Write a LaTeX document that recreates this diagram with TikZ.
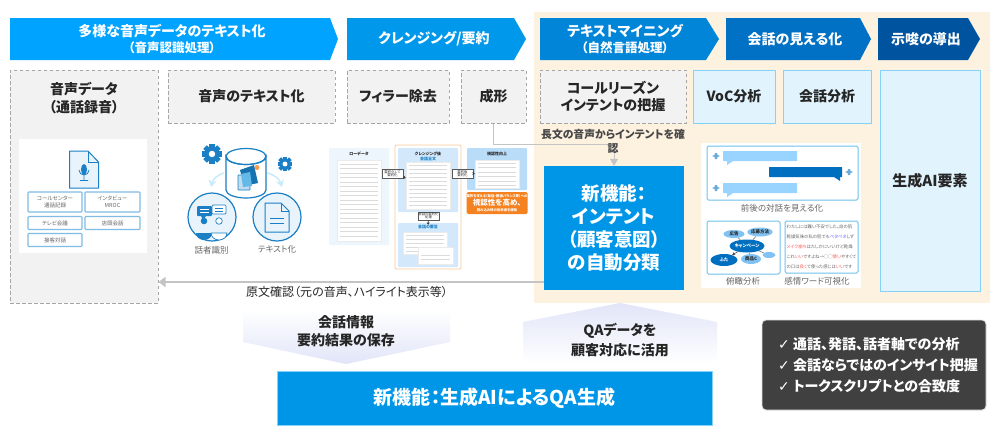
\documentclass[tikz,border=0pt]{standalone}
\usepackage{fontspec}
\setmainfont{Noto Sans CJK JP}[RawFeature=+palt]
\newfontfamily\symfont{DejaVu Sans}
\usetikzlibrary{arrows.meta,positioning,shapes.geometric}
\definecolor{headA}{HTML}{00A3FF}
\definecolor{headB}{HTML}{0098EA}
\definecolor{headC}{HTML}{0085D9}
\definecolor{headD}{HTML}{0071C4}
\definecolor{headE}{HTML}{00539F}
\definecolor{newblue}{HTML}{0096E8}
\definecolor{bgorange}{HTML}{FDF1E0}
\definecolor{dashfill}{HTML}{F2F2F2}
\definecolor{dashline}{HTML}{A6A6A6}
\definecolor{skyfill}{HTML}{E1F4FE}
\definecolor{skyline}{HTML}{85D2F8}
\definecolor{iconblue}{HTML}{1A7FC4}
\definecolor{iconpale}{HTML}{E8F3FB}
\definecolor{chipline}{HTML}{7FBCE6}
\definecolor{linkgray}{HTML}{C4C4C4}
\definecolor{inktext}{HTML}{262626}
\definecolor{softtext}{HTML}{666666}
\definecolor{panelpale}{HTML}{EDF6FD}
\definecolor{panelmid}{HTML}{D3E8FA}
\definecolor{paneldeep}{HTML}{B9DCF8}
\definecolor{bubblepale}{HTML}{99D3FF}
\definecolor{bubbledeep}{HTML}{006FC0}
\definecolor{alertorange}{HTML}{F58220}
\definecolor{lavender}{HTML}{E1E5F8}
\newcommand{\fsize}[1]{\fontsize{#1}{#1}\selectfont}
\newcommand{\headarrow}[4]{\fill[#4] (#1,18) -- (#2,18) -- (#3,39) -- (#2,60) -- (#1,60) -- cycle;}
\newcommand{\gearicon}[2]{%
  \foreach \a in {0,45,...,315}
    \fill[iconblue,shift={(#1)},rotate=\a] (-.3*#2,0) rectangle (.3*#2,-1.15*#2);
  \fill[iconblue] (#1) circle[radius=.85*#2 pt];
  \fill[white] (#1) circle[radius=.38*#2 pt];}
\newcommand{\talkicon}[1]{\fill[iconblue!65,shift={(#1)}] (-1,-3) -- (1,-3) -- (1.5,-1) -- (4,0) -- (1.5,1) -- (1,3) -- (-1,3) -- (-1.5,1) -- (-4,0) -- (-1.5,-1) -- cycle;}
\tikzset{
  headtext/.style={text=white,font=\bfseries\fsize{14},align=center,inner sep=0pt},
  dashbox/.style={draw=dashline,fill=dashfill,line width=1pt,dash pattern=on 3.5pt off 2.5pt,inner sep=0pt},
  skybox/.style={draw=skyline,fill=skyfill,line width=1pt,inner sep=0pt},
  boxtext/.style={text=inktext,font=\bfseries\fsize{14},align=center,inner sep=0pt},
  newbox/.style={fill=newblue,text=white,font=\bfseries\fsize{18.5},align=center,inner sep=0pt},
  chip/.style={draw=chipline,fill=white,rounded corners=.8pt,line width=1.1pt,text=softtext,font=\fsize{5.5},align=center,inner sep=0pt},
  paper/.style={fill=white,draw=black!8,line width=.3pt,inner sep=0pt},
  tinytext/.style={text=inktext,font=\bfseries\fsize{4},align=center,inner sep=0pt},
  stepchip/.style={draw=black!65,fill=white,line width=.8pt,text=inktext,font=\fsize{3.4},align=center,inner sep=0pt},
  paperline/.style={black!14,line width=.6pt},
  iconlabel/.style={text=softtext,font=\fsize{8.5},inner sep=0pt},
  framebox/.style={draw=skyline!80!iconblue,fill=white,rounded corners=1.5pt,line width=1pt},
  bubblepaleb/.style={fill=bubblepale,rounded corners=.5pt},
  word/.style={ellipse,inner sep=0pt,text=inktext,font=\bfseries\fsize{4.5}},
  smallstep/.style={black!80,line width=.7pt,-{Stealth[length=2.5pt,width=3pt]}},
  link/.style={draw=linkgray,line width=1.4pt,-{Triangle[length=7pt,width=10pt]}},
  thinlink/.style={draw=linkgray,line width=.8pt,-{Triangle[length=7pt,width=8pt]}}
}
\begin{document}
\begin{tikzpicture}[x=1pt,y=-1pt]
  \useasboundingbox (0,0) rectangle (1000,434);
  \fill[white] (0,0) rectangle (1000,434);
  \fill[bgorange] (534,12) rectangle (990,303);
  \headarrow{10}{330}{338}{headA}
  \headarrow{347}{514}{526}{headB}
  \headarrow{540}{706}{719}{headC}
  \headarrow{726}{860}{871}{headD}
  \headarrow{878}{968}{980}{headE}
  \node[headtext] (headone) at (172,39) {多様な音声データのテキスト化\\[2pt]{\fsize{12.5}（音声認識処理）}};
  \node[headtext] (headtwo) at (434,39) {クレンジング/要約};
  \node[headtext] (headthree) at (625,39) {テキストマイニング\\[2pt]{\fsize{12.5}（自然言語処理）}};
  \node[headtext] (headfour) at (795,39) {会話の見える化};
  \node[headtext] (headfive) at (926,39) {示唆の導出};

  \node[dashbox,minimum width=148pt,minimum height=233pt] (audio) at (84,186.5) {};
  \node[dashbox,minimum width=167pt,minimum height=53pt,boxtext] (totext) at (251.5,96.5) {音声のテキスト化};
  \node[dashbox,minimum width=102pt,minimum height=53pt,boxtext] (filler) at (398,96.5) {フィラー除去};
  \node[dashbox,minimum width=65pt,minimum height=53pt,boxtext] (seikei) at (493.5,96.5) {成形};
  \node[dashbox,minimum width=146pt,minimum height=53pt,boxtext] (reason) at (613,96.5) {コールリーズン\\[3pt]インテントの把握};
  \node[skybox,minimum width=82pt,minimum height=53pt,boxtext] (voc) at (734,96.5) {VoC分析};
  \node[skybox,minimum width=88pt,minimum height=53pt,boxtext] (talk) at (827,96.5) {会話分析};
  \node[skybox,minimum width=100pt,minimum height=221pt,boxtext,font=\bfseries\fsize{15}] (genai) at (930,180.5) {生成AI要素};
  \node[boxtext] (audiotitle) at (84,98) {音声データ\\[4pt]（通話録音）};

  % audio panel
  \fill[white] (19,139) rectangle (147,253);
  \draw[iconblue,line width=1pt,fill=iconpale,line join=round] (69.5,151) -- (88,151) -- (98.5,162) -- (98.5,188) -- (69.5,188) -- cycle;
  \draw[iconblue,line width=.8pt] (88,151) -- (88,162) -- (98.5,162);
  \fill[iconblue] (84,169.5) ellipse[x radius=3pt,y radius=5.5pt];
  \draw[iconblue,line width=.8pt] (79,170) arc[start angle=180,end angle=0,radius=5] (84,175) -- (84,180.5) (80,180.5) -- (88,180.5);
  \node[chip,minimum width=54pt,minimum height=20pt] (callcenter) at (55,202) {コールセンター\\[1.5pt]通話記録};
  \node[chip,minimum width=55pt,minimum height=20pt] (interview) at (112.5,202) {インタビュー\\[1.5pt]MROC};
  \node[chip,minimum width=54pt,minimum height=13pt] (webmeet) at (55,223) {テレビ会議};
  \node[chip,minimum width=55pt,minimum height=13pt] (shoptalk) at (112.5,223) {店頭会話};
  \node[chip,minimum width=54pt,minimum height=13pt] (service) at (55,240) {接客対話};

  % speech to text icons
  \gearicon{212,154}{8.5}
  \gearicon{285,164}{6.5}
  \draw[iconblue,line width=1.2pt,fill=white] (226,156.5) -- (226,190) arc[start angle=180,end angle=0,x radius=20,y radius=8] -- (266,156.5) arc[start angle=0,end angle=180,x radius=20,y radius=8] -- cycle;
  \draw[iconblue,line width=1.2pt] (246,156.5) ellipse[x radius=20pt,y radius=8pt];
  \fill[iconblue!90!black] (240,170) -- (254,165) -- (258,183) -- (244,186) -- cycle;
  \draw[iconblue,fill=iconpale!80!iconblue,line width=.8pt,rounded corners=.6pt] (238,175) rectangle (250,190);
  \fill[skyline!70!iconblue] (241,174) -- (250,172) -- (252,186) -- (243,187) -- cycle;
  \fill[alertorange!80] (257,167.5) circle[radius=2.5pt];
  \draw[skyline!45,line width=1.5pt,-{Stealth[length=7pt,width=8pt]}] (224,173) to[bend right=30] (211,187);
  \draw[skyline!45,line width=1.5pt,-{Stealth[length=7pt,width=8pt]}] (267,173) to[bend left=30] (282,187);
  \draw[iconblue,line width=1.2pt,fill=iconpale] (212,217) circle[radius=24pt];
  \draw[iconblue,line width=1.2pt,fill=iconpale] (277,217) circle[radius=24pt];
  \fill[iconblue,rounded corners=1pt] (197,206) rectangle (212,216);
  \fill[iconblue] (201,216) -- (206,216) -- (203,220) -- cycle;
  \draw[iconblue,fill=white,line width=.7pt,rounded corners=1pt] (212,205) rectangle (226,214);
  \draw[white,line width=.8pt] (200,209) -- (209,209) (200,212.5) -- (209,212.5);
  \draw[iconblue,line width=.7pt] (215,208) -- (223,208) (215,211) -- (223,211);
  \fill[iconblue] (204,221) circle[radius=3.3pt];
  \fill[iconblue] (196,233) arc[start angle=180,end angle=0,x radius=8,y radius=7] -- cycle;
  \draw[iconblue,fill=white,line width=.7pt] (219,221) circle[radius=3.3pt];
  \draw[iconblue,fill=white,line width=.7pt] (211,233) arc[start angle=180,end angle=0,x radius=8,y radius=7] -- cycle;
  \draw[iconblue,line width=1pt,fill=iconpale,line join=round] (265,203) -- (281,203) -- (289,211) -- (289,232) -- (265,232) -- cycle;
  \draw[iconblue,line width=.8pt] (281,203) -- (281,211) -- (289,211);
  \draw[iconblue,line width=.8pt] (270,218) -- (284,218) (270,223) -- (284,223);
  \node[iconlabel] (speaker) at (211.5,250) {話者識別};
  \node[iconlabel] (textlabel) at (277,249) {テキスト化};

  % cleansing panels
  \fill[panelpale,rounded corners=1pt] (329,148) rectangle (389,245);
  \node[tinytext] (rawtitle) at (359,154) {ローデータ};
  \node[paper,minimum width=44pt,minimum height=81pt] (rawpaper) at (359,200.5) {};
  \foreach \ly in {164,168.5,...,238} \draw[paperline] (340,\ly) -- (378,\ly);
  \draw[alertorange!45,line width=.9pt,rounded corners=1pt] (395,145) rectangle (461,269);
  \fill[panelmid,rounded corners=1pt] (398,148) rectangle (458,212);
  \fill[panelmid,rounded corners=1pt] (398,223) rectangle (458,267);
  \node[tinytext] (cleantitle) at (428,154) {クレンジング後};
  \node[tinytext,text=iconblue] (cleansub) at (428,159) {会話全文};
  \node[paper,minimum width=44pt,minimum height=47pt] (cleanpaper) at (428,185.5) {};
  \foreach \ly in {165,169,...,207} \draw[paperline] (409,\ly) -- (447,\ly);
  \node[tinytext,text=iconblue] (sumtitle) at (428,227) {会話の要旨};
  \node[paper,minimum width=44pt,minimum height=22pt] (sumpaper) at (425,243) {};
  \foreach \ly in {235,239,...,251} \draw[paperline] (406,\ly) -- (444,\ly);
  \node[paper,minimum width=35pt,minimum height=17pt] (sumback) at (435.5,255.5) {};
  \foreach \ly in {255,259} \draw[paperline] (421,\ly) -- (450,\ly);
  \fill[paneldeep,rounded corners=1pt] (467,148) rectangle (527,190);
  \node[tinytext] (viewtitle) at (497,154) {視認性向上};
  \node[paper,minimum width=44pt,minimum height=28pt] (viewpaper) at (497,174) {};
  \foreach \ly in {163,167.5,...,186} \draw[paperline] (478,\ly) -- (516,\ly);
  \node[fill=alertorange,rounded corners=1.5pt,minimum width=58pt,minimum height=22pt,inner sep=0pt,text=white,align=center,font=\bfseries\fsize{3.4}] (alert) at (497,203) {業界を支える（発話・数値バランス等）への\\[1pt]{\fsize{7.5}視認性を高め、}\\[1pt]読み込み時の効率者を補助};
  \node[stepchip,minimum width=21pt,minimum height=9pt] (stepone) at (392.5,173.5) {要約化して\\要約化};
  \node[stepchip,minimum width=21pt,minimum height=9pt] (steptwo) at (462.5,173.5) {要約後\\要約化};
  \node[stepchip,minimum width=21pt,minimum height=8pt] (stepthree) at (428.5,216) {会話の要約化\\処理};
  \draw[smallstep] (stepone) -- (cleanpaper);
  \draw[smallstep] (steptwo) -- (viewpaper);
  \draw[smallstep] (stepthree) -- (sumtitle);

  % visualisation panels
  \fill[white] (701,143) rectangle (861,288);
  \draw[framebox] (707,146) rectangle (858,200);
  \fill[bubblepaleb] (723,151) rectangle (797,161);
  \fill[bubblepale] (727,161) -- (733,161) -- (727,165) -- cycle;
  \fill[bubbledeep,rounded corners=.5pt] (769,167) rectangle (842,177);
  \fill[bubbledeep] (834,177) -- (840,177) -- (840,181) -- cycle;
  \fill[bubblepaleb] (723,183) rectangle (797,193);
  \fill[bubblepale] (727,193) -- (733,193) -- (727,197) -- cycle;
  \talkicon{716,156}
  \talkicon{849,172}
  \talkicon{716,188}
  \node[iconlabel] (dialog) at (782,208) {前後の対話を見える化};
  \draw[framebox] (707,221) rectangle (780,274);
  \node[word,fill=bubblepale!80!iconblue,minimum width=21pt,minimum height=8pt] (adword) at (734,234) {広告};
  \node[word,fill=bubblepale!80!iconblue,minimum width=25pt,minimum height=9pt] (howword) at (760,232) {応募方法};
  \node[word,fill=bubbledeep,text=white,minimum width=30pt,minimum height=13pt] (campaign) at (747,246) {キャンペーン};
  \node[word,fill=bubbledeep,text=white,minimum width=27pt,minimum height=12pt] (lidword) at (724,260) {ふた};
  \node[word,fill=bubblepale!80!iconblue,minimum width=20pt,minimum height=10pt] (itemword) at (751,259) {商品C};
  \node[word,fill=bubblepale!80!iconblue,minimum width=13pt,minimum height=6pt] (blankword) at (769,255) {};
  \draw[black!60,line width=.5pt] (campaign) -- (adword);
  \draw[black!60,line width=.5pt] (campaign) -- (howword);
  \draw[black!60,line width=.5pt] (campaign) -- (itemword);
  \draw[black!60,line width=.5pt] (campaign) -- (blankword);
  \draw[black!70,line width=.6pt,-{Stealth[length=3pt,width=3.5pt]}] (campaign) -- (lidword);
  \draw[framebox] (785,221) rectangle (858,273);
  \node[inner sep=0pt,align=left,text=softtext,font=\fsize{4.4}] (sentiment) at (821.5,247) {わたしには難い不安でした。自の肌\\[5.6pt]乾燥気味の私の肌でも{\color{blue!60}ベタベタ}しず\\[5.6pt]{\color{red!65}メイク崩ち}はたしかにいいけど乾燥\\[5.6pt]これ{\color{red!65}いい}ですよね→◯◯{\color{red!65}使い}やすくて\\[5.6pt]の口は{\color{red!65}良く}て使った感じは{\color{red!65}いい}です};
  \node[iconlabel] (overview) at (743,281) {俯瞰分析};
  \node[iconlabel] (emotion) at (817,281) {感情ワード可視化};

  % new functions and links
  \node[newbox,minimum width=140pt,minimum height=124pt] (intent) at (614,228) {新機能：\\[4.5pt]インテント\\[4.5pt]（顧客意図）\\[4.5pt]の自動分類};
  \coordinate (backstart) at (544,282);
  \coordinate (bend) at (493.5,144);
  \draw[link] (backstart) -- (backstart -| audio.east);
  \draw[thinlink] (seikei.south) -- (bend) -- (bend -| intent.north) -- (intent.north);
  \node[inner sep=0pt,align=center,text=softtext!70!black,font=\bfseries\fsize{10.8}] (longvoice) at (613,141) {長文の音声からインテントを確\\[3pt]認};
  \node[inner sep=0pt,text=inktext,font=\fsize{12}] (original) at (347,292) {原文確認（元の音声、ハイライト表示等）};
  \shade[top color=white,bottom color=lavender] (243,310) -- (450,310) -- (450,342) -- (346,364) -- (243,342) -- cycle;
  \shade[top color=lavender,bottom color=white] (620,303) -- (717,322) -- (717,363) -- (523,363) -- (523,322) -- cycle;
  \node[boxtext] (storeinfo) at (346,331) {会話情報\\[3.5pt]要約結果の保存};
  \node[boxtext] (qause) at (620,340) {QAデータを\\[3.5pt]顧客対応に活用};
  \node[newbox,draw=skyline,line width=.5pt,minimum width=435pt,minimum height=54pt,font=\bfseries\fsize{19}] (qagen) at (494.5,398) {新機能：生成AIによるQA生成};
  \node[fill=black!75,draw=black!12,line width=.8pt,rounded corners=4pt,minimum width=224pt,minimum height=90pt,inner sep=0pt] (pointsbox) at (874,365) {};
  \node[inner sep=0pt,text=white,align=left,font=\bfseries\fsize{14}] (points) at (878,365) {{\symfont ✓} 通話、発話、話者軸での分析\\[7pt]{\symfont ✓} 会話ならではのインサイト把握\\[7pt]{\symfont ✓} トークスクリプトとの合致度};
\end{tikzpicture}
\end{document}
